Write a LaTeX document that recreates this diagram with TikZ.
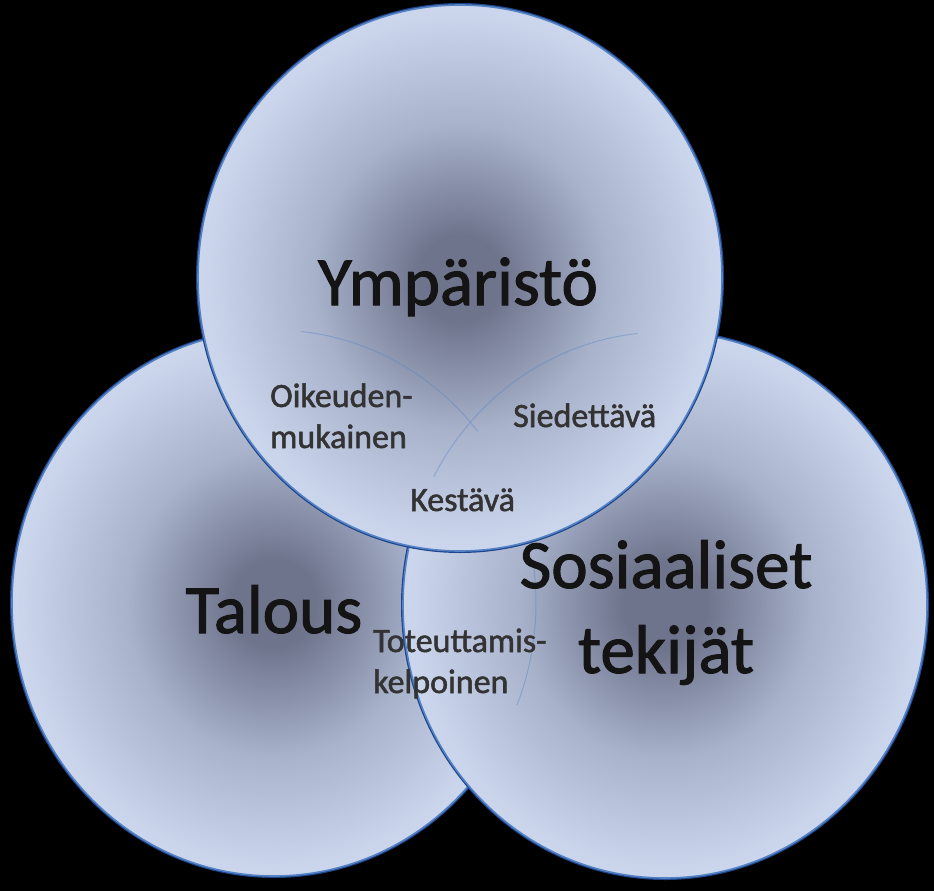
\documentclass[tikz,border=0pt]{standalone}
\usepackage{fontspec}
\setmainfont{Carlito}
\newfontfamily\orbfont{Carlito}[FakeBold=1.5]
\newfontfamily\lensfont{Carlito}[FakeBold=1.5]
\usepackage{tikz}
\definecolor{orbcore}{RGB}{110,116,140}
\definecolor{orbmid}{RGB}{168,178,203}
\definecolor{orbsoft}{RGB}{202,213,236}
\definecolor{orbrim}{RGB}{212,224,245}
\definecolor{orbedge}{RGB}{84,130,196}
\definecolor{orbglow}{RGB}{30,70,140}
\pgfdeclareradialshading{orb}{\pgfpoint{0bp}{0bp}}{color(0bp)=(orbcore); color(4bp)=(orbcore); color(14bp)=(orbmid); color(24bp)=(orbsoft); color(34bp)=(orbrim); color(50bp)=(orbrim)}

\begin{document}
\begin{tikzpicture}[x=1pt,y=-1pt,
    bigtext/.style={font=\orbfont\fontsize{69}{85}\selectfont, text=black!92, inner sep=0pt},
    smalltext/.style={font=\lensfont\fontsize{34}{41}\selectfont, text=black!80, inner sep=0pt, align=left},
    seam/.style={orbedge, line width=1pt, opacity=0.4}]
  \fill[black] (0,0) rectangle (934,891);
  \useasboundingbox (0,0) rectangle (934,891);
  \coordinate (eco) at (274,603);
  \coordinate (soc) at (665,605);
  \coordinate (env) at (460,278);
  % circles, back to front
  \foreach \c in {eco,soc,env}{
    \draw[orbglow, line width=4pt] (\c) ellipse [x radius=262, y radius=273];
    \shade[shading=orb] (\c) ellipse [x radius=262, y radius=273];
    \draw[orbedge, line width=1.6pt] (\c) ellipse [x radius=262, y radius=273];
  }
  % hidden edges seen through
  \draw[seam] (eco) ++(-84:262 and 273) arc[start angle=-84, end angle=-39, x radius=262, y radius=273];
  \draw[seam] (soc) ++(-96:262 and 273) arc[start angle=-96, end angle=-152, x radius=262, y radius=273];
  \draw[seam] (eco) ++(-8:262 and 273) arc[start angle=-8, end angle=22, x radius=262, y radius=273];
  \node[bigtext, anchor=base] (envname) at (458,305) {Ympäristö};
  \node[bigtext, anchor=base] (econame) at (274,633) {Talous};
  \node[bigtext, align=center, anchor=base] (socname) at (666,673) {Sosiaaliset\\tekijät};
  \node[smalltext, anchor=base west] (fair) at (270,448) {Oikeuden-\\mukainen};
  \node[smalltext, anchor=base west] (bearable) at (513,427) {Siedettävä};
  \node[smalltext, anchor=base west] (lasting) at (410,511) {Kestävä};
  \node[smalltext, anchor=base west] (viable) at (373,693) {Toteuttamis-\\kelpoinen};
\end{tikzpicture}
\end{document}
